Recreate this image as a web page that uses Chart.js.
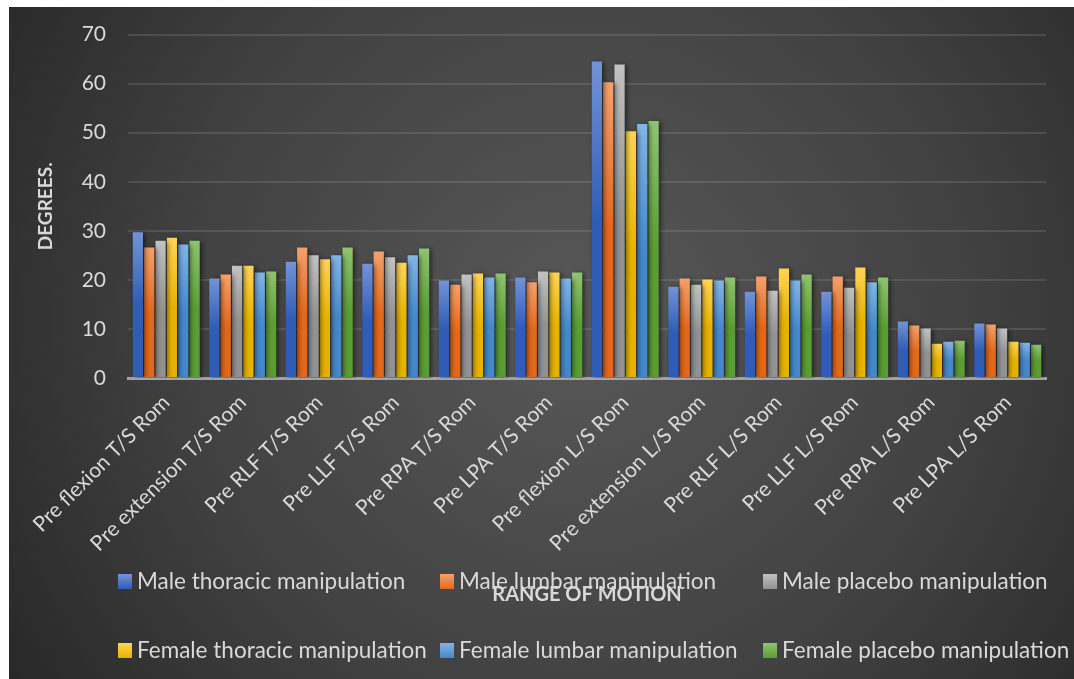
<!DOCTYPE html>
<html>
<head>
<meta charset="utf-8">
<script src="https://cdn.jsdelivr.net/npm/chart.js@4.4.1/dist/chart.umd.min.js"></script>
<style>
  html, body { margin: 0; padding: 0; background: #ffffff; }
  #wrap { position: relative; width: 1074px; height: 679px; }
</style>
</head>
<body>
<div id="wrap"><canvas id="rom"></canvas></div>
<script>
// Range of motion (degrees) per test, by sex and manipulation group
const categories = [
  'Pre flexion T/S Rom', 'Pre extension T/S Rom', 'Pre RLF T/S Rom', 'Pre LLF T/S Rom',
  'Pre RPA T/S Rom', 'Pre LPA T/S Rom', 'Pre flexion L/S Rom', 'Pre extension L/S Rom',
  'Pre RLF L/S Rom', 'Pre LLF L/S Rom', 'Pre RPA L/S Rom', 'Pre LPA L/S Rom'
];
const maleThoracic   = [29.7, 20.3, 23.7, 23.3, 19.9, 20.5, 64.5, 18.6, 17.6, 17.6, 11.5, 11.1];
const maleLumbar     = [26.6, 21.1, 26.6, 25.8, 19.0, 19.5, 60.3, 20.3, 20.7, 20.7, 10.7, 10.9];
const malePlacebo    = [28.0, 22.9, 25.0, 24.6, 21.1, 21.7, 63.9, 19.0, 17.8, 18.4, 10.1, 10.1];
const femaleThoracic = [28.6, 22.9, 24.2, 23.5, 21.3, 21.5, 50.3, 20.1, 22.3, 22.5, 7.0, 7.4];
const femaleLumbar   = [27.2, 21.5, 25.0, 25.0, 20.5, 20.3, 51.8, 19.9, 19.9, 19.5, 7.4, 7.2];
const femalePlacebo  = [28.0, 21.7, 26.6, 26.4, 21.3, 21.5, 52.4, 20.5, 21.1, 20.5, 7.6, 6.8];
const seriesNames = [
  'Male thoracic manipulation', 'Male lumbar manipulation', 'Male placebo manipulation',
  'Female thoracic manipulation', 'Female lumbar manipulation', 'Female placebo manipulation'
];
const yMin = 0, yMax = 70, yStep = 10;

// light (top) and deep (bottom) shade of each series fill
const palette = [
  ['#7393d8', '#2f5cb6'],
  ['#f5a06c', '#e3681a'],
  ['#c2c2c2', '#929292'],
  ['#ffd456', '#e6b200'],
  ['#82b5e6', '#4488cb'],
  ['#8fc470', '#5a9d34']
];

const TEXT = '#d9d9d9';
const FONT = 'Lato, "Liberation Sans", sans-serif';

function barFill(i) {
  return function (ctx) {
    const chart = ctx.chart;
    const y = chart.scales && chart.scales.y;
    if (ctx.type !== 'data' || !y || ctx.raw == null) return palette[i][1];
    const top = y.getPixelForValue(ctx.raw);
    const bottom = y.getPixelForValue(0);
    if (!isFinite(top) || !isFinite(bottom) || top === bottom) return palette[i][1];
    const g = chart.ctx.createLinearGradient(0, top, 0, bottom);
    g.addColorStop(0, palette[i][0]);
    g.addColorStop(0.5, palette[i][1]);
    g.addColorStop(1, palette[i][1]);
    return g;
  };
}

const allSeries = [maleThoracic, maleLumbar, malePlacebo, femaleThoracic, femaleLumbar, femalePlacebo];
const datasets = allSeries.map((vals, i) => ({
  label: seriesNames[i],
  data: vals,
  backgroundColor: barFill(i),
  legendColor: palette[i],
  borderWidth: 0,
  categoryPercentage: 0.89,
  barPercentage: 0.9
}));

// dark panel with a soft radial highlight
const panelBackground = {
  id: 'panelBackground',
  beforeDraw(chart) {
    const c = chart.ctx;
    const w = chart.width, h = chart.height;
    c.save();
    c.fillStyle = '#ffffff';
    c.fillRect(0, 0, w, h);
    const g = c.createRadialGradient(580, 320, 20, 580, 320, 700);
    g.addColorStop(0, '#575757');
    g.addColorStop(0.55, '#414141');
    g.addColorStop(1, '#262626');
    c.fillStyle = g;
    c.fillRect(9, 7, w - 9, h - 7);
    c.restore();
  }
};

// soft drop shadow behind the bars
const barShadow = {
  id: 'barShadow',
  beforeDatasetsDraw(chart) {
    const c = chart.ctx;
    c.save();
    c.shadowColor = 'rgba(0,0,0,0.55)';
    c.shadowBlur = 5;
    c.shadowOffsetX = 2;
    c.shadowOffsetY = 1;
  },
  afterDatasetsDraw(chart) {
    chart.ctx.restore();
  }
};

// two-row, three-column legend under the axis labels
const gridLegend = {
  id: 'gridLegend',
  afterDraw(chart) {
    const c = chart.ctx;
    const colX = [118, 440, 763];
    const rowTop = [574, 643];
    c.save();
    c.font = '22.5px ' + FONT;
    c.textBaseline = 'alphabetic';
    c.textAlign = 'left';
    chart.data.datasets.forEach((ds, i) => {
      const x = colX[i % 3];
      const y = rowTop[Math.floor(i / 3)];
      const g = c.createLinearGradient(0, y, 0, y + 15);
      g.addColorStop(0, ds.legendColor[0]);
      g.addColorStop(1, ds.legendColor[1]);
      c.fillStyle = g;
      c.fillRect(x, y, 14, 15);
      c.fillStyle = TEXT;
      c.fillText(ds.label, x + 19, y + 15);
    });
    c.restore();
  }
};

new Chart(document.getElementById('rom'), {
  type: 'bar',
  data: { labels: categories, datasets },
  plugins: [panelBackground, barShadow, gridLegend],
  options: {
    responsive: true,
    maintainAspectRatio: false,
    animation: false,
    layout: { padding: { left: 25, top: 33, right: 28, bottom: 0 } },
    plugins: {
      legend: { display: false },
      tooltip: { enabled: false }
    },
    scales: {
      x: {
        grid: { display: false },
        border: { display: true, color: '#a3a3a3', width: 3 },
        ticks: {
          color: TEXT,
          font: { family: FONT, size: 21 },
          minRotation: 45,
          maxRotation: 45,
          autoSkip: false,
          padding: 4
        },
        title: {
          display: true,
          text: 'RANGE OF MOTION',
          color: TEXT,
          font: { family: FONT, size: 20, weight: 'bold' },
          padding: { top: 0, bottom: 72 }
        },
        afterFit(scale) { scale.height = 301; }
      },
      y: {
        min: yMin,
        max: yMax,
        grid: { color: 'rgba(255,255,255,0.11)', lineWidth: 2, drawTicks: false },
        border: { display: false },
        ticks: {
          stepSize: yStep,
          color: TEXT,
          font: { family: FONT, size: 21 },
          padding: 22
        },
        title: {
          display: true,
          text: 'DEGREES.',
          color: TEXT,
          font: { family: FONT, size: 19, weight: 'bold' },
          padding: { top: 9, bottom: 0 }
        },
        afterFit(scale) { scale.width = 103; }
      }
    }
  }
});
</script>
</body>
</html>
